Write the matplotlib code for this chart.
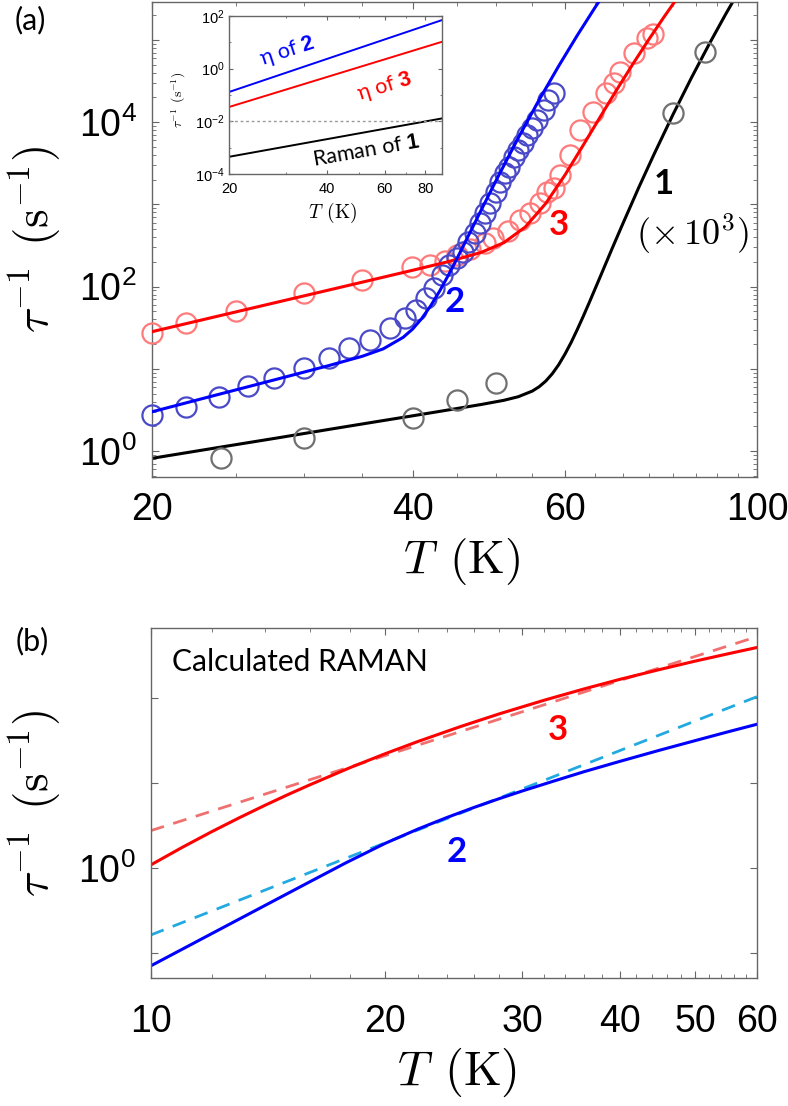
import matplotlib
matplotlib.use("Agg")
import matplotlib.pyplot as plt
from matplotlib.ticker import FixedLocator, NullFormatter, NullLocator

plt.rcParams['font.family'] = ['Liberation Sans', 'DejaVu Sans']
plt.rcParams['mathtext.fontset'] = 'custom'
plt.rcParams['mathtext.rm'] = 'Liberation Sans'
plt.rcParams['mathtext.it'] = 'Liberation Sans:italic'
plt.rcParams['mathtext.bf'] = 'Liberation Sans:bold'

# ---------------- data, panel (a) ----------------
# compound 2 (blue): measured rates and fit
T2 = [20, 21.9, 23.9, 25.8, 27.7, 30.0, 32.0, 33.8, 35.7, 37.7, 39.2, 40.4, 41.5,
      42.4, 43.3, 44.1, 45.0, 45.7, 46.4, 47.2, 47.9, 48.5, 49.1, 49.9, 50.5, 51.1,
      51.7, 52.4, 53.0, 53.7, 54.3, 55.0, 55.7, 56.7, 57.4, 58.2]
rate2 = [2.75, 3.47, 4.6, 6.1, 7.7, 10.2, 13.5, 17.9, 22.6, 31, 41, 52, 72,
         95, 138, 183, 220, 266, 352, 445, 590, 780, 1030, 1430, 1890, 2390,
         2870, 3800, 4590, 5530, 6990, 8430, 10600, 14100, 18600, 22500]
fitT2 = [20, 23, 26, 29, 32, 35, 37, 39, 40, 41, 42, 43, 44, 45, 46, 48, 50, 53,
         56, 59, 62, 65, 67]
fit2 = [3.0, 4.41, 6.17, 8.33, 10.94, 14.22, 17.5, 24.1, 30.4, 41.1, 59.0, 88.7,
        137.9, 217.8, 345, 849, 1993, 6470, 18625, 48190, 114000, 249000, 403600]

# compound 3 (red)
T3 = [20, 21.9, 25, 30, 35, 39.9, 41.9, 43.6, 45.0, 46.6, 48.5, 49.6, 51.6, 53.2,
      54.6, 56.1, 57.2, 58.2, 59.2, 60.8, 62.5, 64.7, 67.0, 68.3, 69.5, 72.1, 74.6, 75.9]
rate3 = [27, 36, 50, 84, 122, 175, 185, 205, 240, 290, 335, 390, 480, 640,
         780, 1030, 1400, 1600, 2300, 4000, 8040, 13400, 22500, 29700, 41100,
         68900, 105000, 120000]
fitT3 = [20, 24, 28, 32, 36, 40, 44, 48, 51, 54, 57, 60, 63, 66, 69, 72, 75, 78, 81]
fit3 = [28.3, 44.5, 65.2, 90.8, 121.6, 158, 201.3, 260.6, 342.6, 532.7, 1025, 2280,
        5277, 11930, 25710, 52480, 101650, 187500, 330800]

# compound 1 (black, x 10^3)
T1 = [24, 30, 40, 45, 50, 80, 87]
rate1 = [0.815, 1.43, 2.5, 4.17, 6.66, 12800, 72000]
fitT1 = [20, 24, 28, 32, 36, 40, 44, 48, 51, 53, 55, 56, 57, 58, 59, 60, 61, 62,
         63, 64, 65, 66, 68, 70, 73, 76, 80, 84, 88, 92, 96]
fit1 = [0.815, 1.115, 1.45, 1.83, 2.24, 2.68, 3.16, 3.68, 4.14, 4.58, 5.36, 6.04,
        7.08, 8.70, 11.2, 15.1, 21.0, 30.1, 43.7, 63.9, 93.9, 137, 289, 586, 1600,
        4027, 12490, 34750, 88100, 206000, 449000]

# inset: Raman terms
inT = [20, 90]
in_eta2 = [0.13, 70]
in_eta3 = [0.035, 10.5]
in_raman1 = [4.5e-4, 0.0129]

# ---------------- data, panel (b) ----------------
bT3 = [10, 11, 12, 13, 14, 15, 16, 18, 20, 22, 25, 28, 32, 36, 40, 45, 50, 55, 60]
b3 = [1.094, 1.781, 2.72, 3.94, 5.48, 7.36, 9.58, 15.2, 22.3, 30.9, 46.6, 65.5,
      95.0, 129, 167, 218, 274, 333, 396]
bT2 = [10, 12, 14, 16, 17.8, 20, 22, 24, 26, 28, 30, 33, 36, 40, 45, 50, 55, 60]
b2 = [0.071, 0.172, 0.363, 0.693, 1.158, 1.967, 2.88, 3.96, 5.20, 6.59, 8.13,
      10.7, 13.7, 18.1, 24.5, 31.8, 40.2, 49.5]
bTfit = [10, 60]
b3fit = [2.77, 531]
b2fit = [0.164, 104.5]

W, H = 788, 1106
fig = plt.figure(figsize=(W / 100, H / 100), dpi=100)


def frac(x0, y0, x1, y1):
    # pixel box -> figure fraction rect
    return [x0 / W, 1 - y1 / H, (x1 - x0) / W, (y1 - y0) / H]


spine_col = '#666666'


def style_axes(ax, size, pad_x, pad_y, length=5):
    for s in ax.spines.values():
        s.set_color(spine_col)
        s.set_linewidth(1.0)
    ax.tick_params(which='both', direction='in', top=True, right=True,
                   color=spine_col, labelsize=size)
    ax.tick_params(which='major', length=length, width=0.8)
    ax.tick_params(which='minor', length=length * 0.6, width=0.6)
    ax.tick_params(axis='x', which='both', pad=pad_x)
    ax.tick_params(axis='y', which='both', pad=pad_y)


xlab = r'$T\;\,(\mathrm{K})$'
ylab = r'$\tau^{-1}\;\,(\mathrm{s}^{-1})$'

# ---------------- panel (a) ----------------
ax = fig.add_axes(frac(152, 2, 757, 477))
ax.set_xscale('log')
ax.set_yscale('log')

# markers are not clipped at the frame (as in the original)
mk = dict(marker='o', ls='none', ms=14.5, mfc='none', mew=1.6, clip_on=False)
ax.plot(fitT1, fit1, color='black', lw=2.2, zorder=2)
ax.plot(T1, rate1, mec='#707070', **mk, zorder=3)
ax.plot(T3, rate3, mec='#ff7a7a', **mk, zorder=3)
ax.plot(fitT3, fit3, color='#ff0000', lw=2.2, zorder=4)
ax.plot(T2, rate2, mec='#4a4ac8', **mk, zorder=3)
ax.plot(fitT2, fit2, color='#0000ff', lw=2.2, zorder=4)

ax.set_xlim(20, 100)
ax.set_ylim(0.483, 2.9e5)
ax.xaxis.set_major_locator(FixedLocator([20, 40, 60, 100]))
ax.xaxis.set_minor_locator(FixedLocator([t for t in range(25, 100, 5) if t not in (40, 60)]))
ax.xaxis.set_minor_formatter(NullFormatter())
ax.set_xticklabels(['20', '40', '60', '100'])
ax.yaxis.set_major_locator(FixedLocator([10.0 ** k for k in range(0, 6)]))
ax.set_yticklabels(['$10^{0}$', '', '$10^{2}$', '', '$10^{4}$', ''])
ax.yaxis.set_minor_locator(FixedLocator([m * 10.0 ** k for k in range(-1, 6) for m in range(2, 10)]))
ax.yaxis.set_minor_formatter(NullFormatter())
style_axes(ax, 27, 11, 11)

bold = dict(family='Lato', fontweight='bold', ha='center', va='center', fontsize=25)
ax.text(44.7, 65, '2', color='#0000ff', **bold)
ax.text(59.1, 561, '3', color='#ff0000', **bold)
ax.text(78.1, 1771, '1', color='black', **bold)
ax.text(84.2, 436, r'$(\times\,10^3)$', fontsize=26, ha='center', va='center',
        math_fontfamily='cm')

fig.text(0.585, 1 - 561 / H, xlab, fontsize=34, ha='center', va='center',
         math_fontfamily='cm')
fig.text(35 / W, 1 - 239 / H, ylab, fontsize=34, rotation=90,
         ha='center', va='center', math_fontfamily='cm')
fig.text(30 / W, 1 - 20 / H, '(a)', family='Lato', fontsize=22, ha='center', va='center')

# inset
ins = fig.add_axes(frac(229, 16, 442, 174))
ins.set_xscale('log')
ins.set_yscale('log')
ins.plot(inT, in_eta2, color='#0000ff', lw=1.4)
ins.plot(inT, in_eta3, color='#ff0000', lw=1.4)
ins.plot(inT, in_raman1, color='black', lw=1.4)
ins.axhline(1e-2, color='#999999', lw=1.0, ls=(0, (2, 2)))
ins.set_xlim(20, 90)
ins.set_ylim(1e-4, 1e2)
ins.xaxis.set_major_locator(FixedLocator([20, 40, 60, 80]))
ins.xaxis.set_minor_locator(FixedLocator([30, 50, 70, 90]))
ins.xaxis.set_minor_formatter(NullFormatter())
ins.set_xticklabels(['20', '40', '60', '80'])
ins.yaxis.set_major_locator(FixedLocator([1e-4, 1e-2, 1, 1e2]))
ins.set_yticklabels(['$10^{-4}$', '$10^{-2}$', '$10^{0}$', '$10^{2}$'])
ins.yaxis.set_minor_locator(FixedLocator([10.0 ** k for k in (-3, -1, 1)]))
ins.yaxis.set_minor_formatter(NullFormatter())
style_axes(ins, 10.5, 6, 3, length=3)

lab = dict(family='Lato', fontsize=15.5, ha='center', va='center', rotation_mode='anchor')
ins.text(30.1, 4.6, r'η of $\mathbf{2}$', color='#0000ff', rotation=18, **lab)
ins.text(60.2, 0.2, r'η of $\mathbf{3}$', color='#ff0000', rotation=17, **lab)
ins.text(52.6, 8.0e-4, r'Raman of $\mathbf{1}$', color='black', rotation=10, **lab)
fig.text(333 / W, 1 - 213 / H, xlab, fontsize=14, ha='center', va='center',
         math_fontfamily='cm')
fig.text(179 / W, 1 - 100 / H, ylab, fontsize=10, rotation=90,
         ha='center', va='center', math_fontfamily='cm')

# ---------------- panel (b) ----------------
bx = fig.add_axes(frac(150.7, 628.3, 757, 977.7))
bx.set_xscale('log')
bx.set_yscale('log')
bx.plot(bTfit, b3fit, color='#f07070', lw=2.0, ls=(0, (5, 3.5)))
bx.plot(bT3, b3, color='#ff0000', lw=2.2)
bx.plot(bTfit, b2fit, color='#22aae0', lw=2.0, ls=(0, (5, 3.5)))
bx.plot(bT2, b2, color='#0000ff', lw=2.2)
bx.set_xlim(10, 60)
bx.set_ylim(0.0516, 666)
bx.xaxis.set_major_locator(FixedLocator([10, 20, 30, 40, 50, 60]))
bx.xaxis.set_minor_locator(FixedLocator([t for t in range(12, 60, 2) if t % 10]))
bx.xaxis.set_minor_formatter(NullFormatter())
bx.set_xticklabels(['10', '20', '30', '40', '50', '60'])
bx.yaxis.set_major_locator(FixedLocator([0.1, 1, 10, 100]))
bx.set_yticklabels(['', '$10^{0}$', '', ''])
bx.yaxis.set_minor_locator(NullLocator())
style_axes(bx, 27, 19, 11)

bx.text(0.035, 0.9035, 'Calculated RAMAN', transform=bx.transAxes, family='Lato',
        fontsize=21.5, ha='left', va='center')
bx.text(33.3, 42.4, '3', color='#ff0000', **bold)
bx.text(24.7, 1.56, '2', color='#0000ff', **bold)

fig.text(457 / W, 1 - 1072 / H, xlab, fontsize=35, ha='center', va='center',
         math_fontfamily='cm')
fig.text(35 / W, 1 - 803 / H, ylab, fontsize=34, rotation=90,
         ha='center', va='center', math_fontfamily='cm')
fig.text(32 / W, 1 - 641 / H, '(b)', family='Lato', fontsize=22, ha='center', va='center')

fig.savefig('out.png', dpi=100)
